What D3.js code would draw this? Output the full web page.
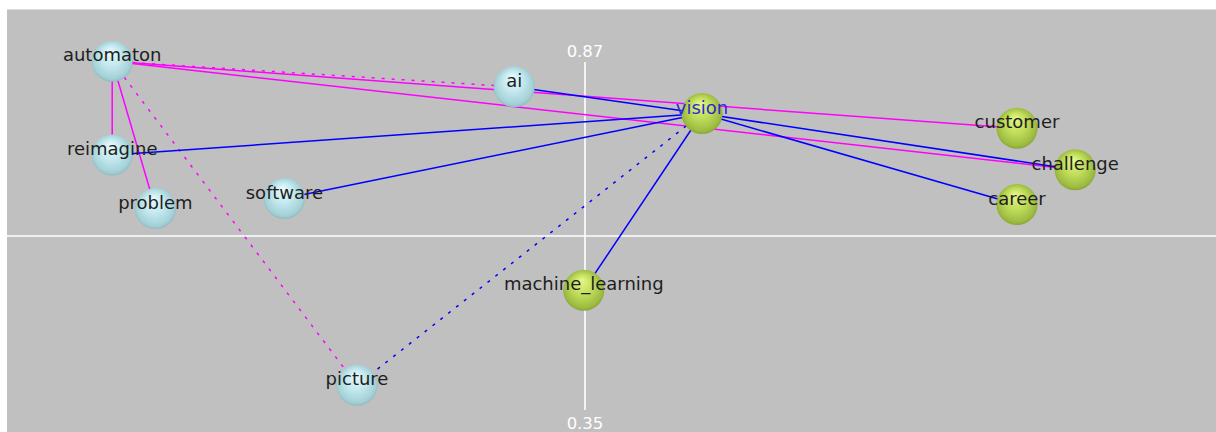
<!DOCTYPE html>
<html>
<head>
<meta charset="utf-8">
<script src="https://cdn.jsdelivr.net/npm/d3@7"></script>
<style>
html,body{margin:0;padding:0;background:#fff;overflow:hidden;}
svg{display:block;}
</style>
</head>
<body>
<svg id="chart" width="1216" height="432"></svg>
<script>
// ---- data ----
const nodeNames = ["automaton","reimagine","problem","software","ai","picture","vision","customer","challenge","career","machine_learning"];
const nodeX     = [-0.788, -0.788, -0.716, -0.501, -0.118, -0.380, 0.195, 0.720, 0.817, 0.720, -0.002];
const nodeY     = [0.871, 0.731, 0.651, 0.666, 0.833, 0.387, 0.793, 0.771, 0.709, 0.657, 0.529];
const nodeGroup = ["blue","blue","blue","blue","blue","blue","green","green","green","green","green"];
const edgeSource = ["automaton","automaton","automaton","automaton","automaton","automaton","vision","vision","vision","vision","vision","vision","vision"];
const edgeTarget = ["reimagine","problem","customer","challenge","ai","picture","ai","reimagine","software","machine_learning","challenge","career","picture"];
const edgeColor  = ["magenta","magenta","magenta","magenta","magenta","magenta","blue","blue","blue","blue","blue","blue","blue"];
const edgeDashed = [false,false,false,false,true,true,false,false,false,false,false,false,true];
const axisTop = 0.87, axisBottom = 0.35;
const highlighted = "vision";

// ---- layout ----
const svg = d3.select("#chart");
const W = 1216, H = 432;
const x = d3.scaleLinear().domain([-1, 1]).range([585 - 600, 585 + 600]);
const y = d3.scaleLinear().domain([axisBottom, axisTop]).range([410, 62]);
const axisX = x(0);
const midY = y((axisTop + axisBottom) / 2);

// background
svg.append("rect").attr("x",0).attr("y",0).attr("width",W).attr("height",H).attr("fill","#ffffff");
svg.append("rect").attr("x",7).attr("y",9).attr("width",W-7).attr("height",H-9).attr("fill","#c0c0c0");
svg.append("line").attr("x1",7).attr("x2",W).attr("y1",9.5).attr("y2",9.5).attr("stroke","#dcdcdc").attr("stroke-width",1);

// axes
svg.append("line").attr("x1",7).attr("x2",W).attr("y1",midY).attr("y2",midY)
  .attr("stroke","#ffffff").attr("stroke-width",1.6);
svg.append("line").attr("x1",axisX).attr("x2",axisX).attr("y1",y(axisTop)).attr("y2",y(axisBottom))
  .attr("stroke","#ffffff").attr("stroke-width",1.6);
svg.append("text").attr("x",axisX).attr("y",y(axisTop)-5).attr("text-anchor","middle")
  .attr("font-family","DejaVu Sans").attr("font-size",16.5).attr("fill","#ffffff").text(axisTop.toFixed(2));
svg.append("text").attr("x",axisX).attr("y",y(axisBottom)+19).attr("text-anchor","middle")
  .attr("font-family","DejaVu Sans").attr("font-size",16.5).attr("fill","#ffffff").text(axisBottom.toFixed(2));

// gradients
const defs = svg.append("defs");
function grad(id, stops){
  const g = defs.append("radialGradient").attr("id",id)
    .attr("cx","50%").attr("cy","50%").attr("r","55%").attr("fx","45%").attr("fy","25%");
  stops.forEach(s => g.append("stop").attr("offset",s[0]).attr("stop-color",s[1]));
}
grad("gBlue", [["0%","#e8fbfd"],["45%","#c4e9ef"],["85%","#a2d0d6"],["100%","#82aab0"]]);
grad("gGreen",[["0%","#e6f88c"],["45%","#c2de5c"],["85%","#9cbb40"],["100%","#7c9632"]]);

const nodes = nodeNames.map((n,i)=>({name:n, x:x(nodeX[i]), y:y(nodeY[i]), group:nodeGroup[i]}));
const byName = Object.fromEntries(nodes.map(d=>[d.name,d]));
const edges = edgeSource.map((s,i)=>({s:byName[s], t:byName[edgeTarget[i]], c:edgeColor[i], dashed:edgeDashed[i]}));

const colorMap = {magenta:"#ff00ff", blue:"#0000ff"};
svg.append("g").selectAll("line").data(edges).join("line")
  .attr("x1",d=>d.s.x).attr("y1",d=>d.s.y).attr("x2",d=>d.t.x).attr("y2",d=>d.t.y)
  .attr("stroke",d=>colorMap[d.c]).attr("stroke-width",1.5)
  .attr("stroke-dasharray",d=>d.dashed?"3,7":null);

svg.append("g").selectAll("circle").data(nodes).join("circle")
  .attr("cx",d=>d.x).attr("cy",d=>d.y).attr("r",20.5)
  .attr("fill",d=>d.group==="blue"?"url(#gBlue)":"url(#gGreen)");

svg.append("g").selectAll("text").data(nodes).join("text")
  .attr("x",d=>d.x).attr("y",d=>d.y).attr("text-anchor","middle")
  .attr("font-family","DejaVu Sans").attr("font-size",18)
  .attr("fill",d=>d.name===highlighted?"#2b2bd0":"#1e1e1e")
  .text(d=>d.name);
</script>
</body>
</html>
